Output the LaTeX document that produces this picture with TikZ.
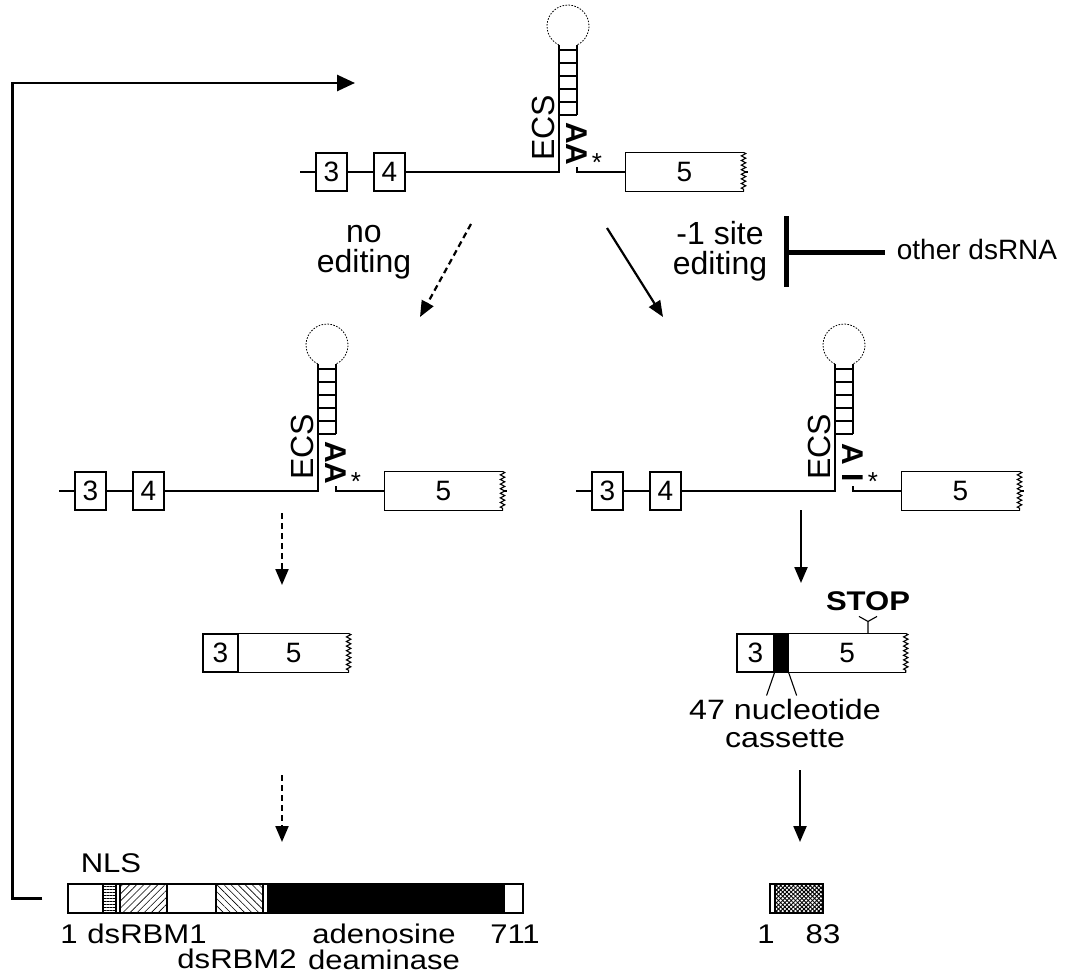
\documentclass[tikz,border=0pt]{standalone}
\usepackage{fontspec}
\setmainfont{Liberation Sans}
\newfontfamily\widesf[FakeStretch=1.15]{Liberation Sans}
\usetikzlibrary{arrows.meta,positioning,calc,patterns.meta,decorations.pathmorphing}

\newcommand{\fsz}[2]{\fontsize{#1}{#2}\selectfont}
% exon box with a ragged (open) 3' end
\newcommand{\openbox}[1]{%
  \draw[rna] (#1.north east) -- (#1.north west) -- (#1.south west) -- (#1.south east);
  \draw[rna,zig] (#1.north east) -- (#1.south east);}
% pre-mRNA with ECS hairpin: prefix, stem x, strand y, bases
\newcommand{\premrna}[4]{%
  \begin{scope}[shift={(#2,#3)}]
    \coordinate (#1in)  at (-259,0);
    \coordinate (#1out) at (189,0);
    \coordinate (#1sl)  at (0,0);
    \coordinate (#1sr)  at (18,0);
    \node[exon] (#1x3) at (-227.5,0) {3};
    \node[exon] (#1x4) at (-169.5,0) {4};
    \node[exonopen, minimum width=117pt] (#1x5) at (125.5,0) {5};
    \openbox{#1x5}
    \draw[rna] (#1in) -- (#1x3) -- (#1x4) -- (#1sl) -- (0,-127);
    \draw[rna] (18,-5) -- (#1sr) -- (#1x5);
    \draw[rna] (#1x5.east) -- (#1out);
    \draw[rna] (18,-127) -- (18,-57);
    \foreach \r in {-122,-109,-96,-83,-70,-57} \draw[rna] (0,\r) -- (18,\r);
    \draw[loopd] (0,-127) arc[start angle=115.4, end angle=424.6, radius=21];
    \node[ecs] (#1ecs) at (-16,-44) {ECS};
    \node[basepair] (#1bp) at (18,-28) {#4};
    \node[astk] (#1ast) at (38,-19) {*};
  \end{scope}}

\begin{document}
\begin{tikzpicture}[x=1pt, y=-1pt,
  rna/.style={line width=1.1pt},
  exon/.style={draw, line width=1.1pt, minimum width=31pt, minimum height=38pt,
               inner sep=0pt, font=\fsz{28}{30}},
  exonopen/.style={exon, draw=none},
  zig/.style={decorate, decoration={zigzag, segment length=4.6pt, amplitude=2.2pt}},
  loopd/.style={line width=0.8pt, dash pattern=on 1.6pt off 1.4pt},
  ecs/.style={font=\fsz{32}{32}, rotate=90, inner sep=0pt},
  basepair/.style={font=\bfseries\fsz{30}{30}, rotate=-90, inner sep=0pt},
  astk/.style={font=\fsz{26}{26}, inner sep=0pt, anchor=north},
  lbl/.style={font=\fsz{28}{28}, inner sep=0pt, align=center},
  wlbl/.style={font=\widesf\fsz{27}{26}, inner sep=0pt, align=center},
  big/.style={font=\fsz{32}{30}, inner sep=0pt, align=center},
  go/.style={-{Triangle[length=16pt,width=13pt]}, line width=2.2pt},
  maybe/.style={go, dash pattern=on 6pt off 4pt},
  back/.style={-{Triangle[length=18pt,width=16pt]}, line width=2.7pt},
  inh/.style={line width=5pt},
  seg/.style={draw, line width=1.1pt}]
\useasboundingbox (0,0) rectangle (1068,979);

% pre-mRNAs
\premrna{top}{559}{172}{AA}
\premrna{ne}{318}{491}{AA}
\premrna{ed}{835}{491}{A I}

% choices
\node[big] (noed) at (364,252) {no\\editing};
\node[big] (sited) at (720,251) {-1 site\\editing};
\node[lbl] (dsrna) at (977,249) {other dsRNA};
\coordinate (blk) at (786,252);
\draw[inh, shorten <=12pt] (dsrna.west |- blk) -- (blk);
\draw[inh] ([yshift=36pt]blk) -- ([yshift=-35pt]blk);
\coordinate (noA) at (471,224); \coordinate (noB) at (420,317);
\coordinate (edA) at (607,228); \coordinate (edB) at (663,317);
\draw[maybe] (noA) -- (noB);
\draw[go] (edA) -- (edB);

% spliced mRNAs
\node[exon, minimum width=35pt] (m3) at (220.5,653) {3};
\node[exonopen, minimum width=109pt, right=0pt of m3] (m5) {5};
\openbox{m5}
\node[exon, minimum width=37pt] (c3) at (755.5,653) {3};
\node[exon, fill=black, minimum width=13pt, right=0pt of c3] (cas) {};
\node[exonopen, minimum width=116pt, right=0pt of cas] (c5) {5};
\openbox{c5}
\node[font=\widesf\bfseries\fsz{27}{27}, inner sep=0pt] (stop) at (868,601) {STOP};
\draw[rna] (c5.north -| stop) -- ++(0,-12) coordinate (fork) -- ++(-9,-5);
\draw[rna] (fork) -- ++(9,-5);
\draw[rna] (cas.south west) -- ++(-8,23);
\draw[rna] (cas.south east) -- ++(8,23);
\node[wlbl, font=\widesf\fsz{28}{28}] (casl) at (785,723.5) {47 nucleotide\\cassette};
\draw[maybe] (282,513) coordinate (neA) -- (282,585) coordinate (neB);
\draw[go] (801,510) coordinate (edC) -- (801,583) coordinate (edD);

% proteins
\draw[maybe] (282,775) coordinate (neC) -- (282,842) coordinate (neD);
\draw[go] (800,770) coordinate (edE) -- (800,842) coordinate (edF);
\node[seg, minimum width=455pt, minimum height=29pt, inner sep=0pt] (prot) at (295.5,898.5) {};
\draw[seg, pattern={Lines[angle=0, distance=3pt, line width=0.6pt]}] (103,884) rectangle (116,913);
\draw[seg, pattern={Lines[angle=45, distance=5pt, line width=0.6pt]}] (120,884) rectangle (167,913);
\draw[seg, pattern={Lines[angle=-45, distance=5pt, line width=0.6pt]}] (216,884) rectangle (263,913);
\draw[seg, fill=black] (268,884) rectangle (504,913);
\node[wlbl] (nls) at (111,863) {NLS};
\node[wlbl] (n1) at (69,934) {1};
\node[wlbl] (rbm1) at (147,934) {dsRBM1};
\node[wlbl] (rbm2) at (237,959) {dsRBM2};
\node[wlbl, font=\widesf\fsz{27}{26}] (adn) at (384,947) {adenosine\\deaminase};
\node[wlbl] (n711) at (515,934) {711};

\node[seg, minimum width=53pt, minimum height=29pt, inner sep=0pt] (trunc) at (796.5,898.5) {};
\fill[pattern={Lines[angle=45, distance=3pt, line width=1pt]}] (775,884) rectangle (823,913);
\fill[pattern={Lines[angle=-45, distance=3pt, line width=1pt]}] (775,884) rectangle (823,913);
\draw[seg] (775,884) rectangle (823,913);
\node[wlbl] (t1) at (766,934) {1};
\node[wlbl] (t83) at (823,934) {83};

% feedback on the pre-mRNA
\coordinate (looptip) at (355,83);
\draw[back] ([xshift=-25pt]prot.west) -- ++(-30,0) |- (looptip);
\end{tikzpicture}
\end{document}
